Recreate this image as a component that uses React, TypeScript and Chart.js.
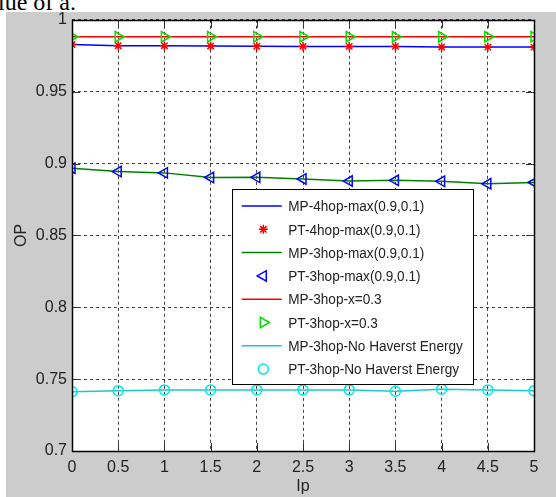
import React, { useEffect, useRef } from "react";
import { Chart, registerables } from "chart.js";

Chart.register(...registerables);

const xValues = [0, 0.5, 1, 1.5, 2, 2.5, 3, 3.5, 4, 4.5, 5];
const mp4hop = [0.9828, 0.982, 0.982, 0.9818, 0.9816, 0.9815, 0.9815, 0.9815, 0.9811, 0.981, 0.981];
const pt4hop = [0.9828, 0.982, 0.982, 0.9818, 0.9816, 0.9815, 0.9815, 0.9815, 0.9811, 0.981, 0.981];
const mp3hop = [0.8968, 0.8944, 0.8935, 0.8903, 0.8904, 0.8893, 0.8878, 0.8883, 0.8876, 0.8859, 0.8868];
const pt3hop = [0.8968, 0.8944, 0.8935, 0.8903, 0.8904, 0.8893, 0.8878, 0.8883, 0.8876, 0.8859, 0.8868];
const mpX03 = [0.9882, 0.9882, 0.9882, 0.9882, 0.9882, 0.9882, 0.9882, 0.9882, 0.9882, 0.9882, 0.9882];
const ptX03 = [0.9882, 0.9882, 0.9882, 0.9882, 0.9882, 0.9882, 0.9882, 0.9882, 0.9882, 0.9882, 0.9882];
const mpNoEH = [0.7413, 0.742, 0.7425, 0.7425, 0.7425, 0.7425, 0.7425, 0.7416, 0.743, 0.7425, 0.742];
const ptNoEH = [0.7413, 0.742, 0.7425, 0.7425, 0.7425, 0.7425, 0.7425, 0.7416, 0.743, 0.7425, 0.742];

const seriesLabels = [
  "MP-4hop-max(0.9,0.1)",
  "PT-4hop-max(0.9,0.1)",
  "MP-3hop-max(0.9,0.1)",
  "PT-3hop-max(0.9,0.1)",
  "MP-3hop-x=0.3",
  "PT-3hop-x=0.3",
  "MP-3hop-No Haverst Energy",
  "PT-3hop-No Haverst Energy",
];
const xTitle = "Ip";
const yTitle = "OP";
const headerText = "lue of a.";

const FONT = '"Liberation Sans Narrow", "Arial Narrow", "Liberation Sans", Arial, sans-serif';

const toPts = (ys: number[]) => ys.map((y, i) => ({ x: xValues[i], y }));

type Kind = { type: "line" | "star" | "triL" | "triR" | "circle"; color: string };
const kinds: Kind[] = [
  { type: "line", color: "#0000ff" },
  { type: "star", color: "#ff0000" },
  { type: "line", color: "#008000" },
  { type: "triL", color: "#0000ff" },
  { type: "line", color: "#ff0000" },
  { type: "triR", color: "#00e000" },
  { type: "line", color: "#20c8c8" },
  { type: "circle", color: "#00e8e8" },
];

function drawMarker(ctx: CanvasRenderingContext2D, k: Kind, x: number, y: number) {
  ctx.save();
  ctx.strokeStyle = k.color;
  ctx.lineWidth = 1.5;
  ctx.beginPath();
  if (k.type === "star") {
    const r = 4.5;
    ctx.moveTo(x - r, y); ctx.lineTo(x + r, y);
    ctx.moveTo(x, y - r); ctx.lineTo(x, y + r);
    const d = r * 0.707;
    ctx.moveTo(x - d, y - d); ctx.lineTo(x + d, y + d);
    ctx.moveTo(x - d, y + d); ctx.lineTo(x + d, y - d);
  } else if (k.type === "triL" || k.type === "triR") {
    const r = 6;
    const dir = k.type === "triL" ? -1 : 1;
    ctx.moveTo(x + dir * r, y);
    ctx.lineTo(x - dir * r * 0.5, y - r * 0.866);
    ctx.lineTo(x - dir * r * 0.5, y + r * 0.866);
    ctx.closePath();
  } else if (k.type === "circle") {
    ctx.arc(x, y, 5, 0, Math.PI * 2);
  }
  ctx.stroke();
  ctx.restore();
}

const decorPlugin = {
  id: "decor",
  beforeDraw(chart: any) {
    const { ctx, chartArea: a } = chart;
    ctx.save();
    ctx.fillStyle = "#ffffff";
    ctx.fillRect(a.left, a.top, a.right - a.left, a.bottom - a.top);
    ctx.restore();
  },
  afterDraw(chart: any) {
    const { ctx, chartArea: a, scales } = chart;
    ctx.save();
    // inward ticks
    ctx.strokeStyle = "#333";
    ctx.lineWidth = 1;
    ctx.beginPath();
    scales.x.ticks.forEach((t: any) => {
      const px = Math.round(scales.x.getPixelForValue(t.value)) + 0.5;
      ctx.moveTo(px, a.bottom); ctx.lineTo(px, a.bottom - 8);
      ctx.moveTo(px, a.top); ctx.lineTo(px, a.top + 8);
    });
    scales.y.ticks.forEach((t: any) => {
      const py = Math.round(scales.y.getPixelForValue(t.value)) + 0.5;
      ctx.moveTo(a.left, py); ctx.lineTo(a.left + 8, py);
      ctx.moveTo(a.right, py); ctx.lineTo(a.right - 8, py);
    });
    ctx.stroke();
    // box
    ctx.strokeStyle = "#000";
    ctx.lineWidth = 1.5;
    ctx.strokeRect(Math.round(a.left) + 0.5, Math.round(a.top) + 0.5, Math.round(a.right - a.left), Math.round(a.bottom - a.top));
    // axis titles
    ctx.fillStyle = "#222";
    ctx.font = `16px ${FONT}`;
    ctx.textAlign = "center";
    ctx.textBaseline = "middle";
    ctx.fillText(xTitle, (a.left + a.right) / 2, 475);
    ctx.save();
    ctx.translate(16, (a.top + a.bottom) / 2);
    ctx.rotate(-Math.PI / 2);
    ctx.fillText(yTitle, 0, 0);
    ctx.restore();
    // legend
    const lx = 226.5, ly = 177.5, lw = 241, lh = 195;
    ctx.fillStyle = "#ffffff";
    ctx.fillRect(lx, ly, lw, lh);
    ctx.strokeStyle = "#000";
    ctx.lineWidth = 1;
    ctx.strokeRect(lx, ly, lw, lh);
    ctx.textAlign = "left";
    ctx.textBaseline = "middle";
    ctx.font = `13.6px ${FONT}`;
    seriesLabels.forEach((lab, i) => {
      const cy = 194 + i * 23.3;
      const k = kinds[i];
      if (k.type === "line") {
        ctx.strokeStyle = k.color;
        ctx.lineWidth = 1.5;
        ctx.beginPath();
        ctx.moveTo(235.7, cy);
        ctx.lineTo(275.7, cy);
        ctx.stroke();
      } else {
        drawMarker(ctx, k, 257.3, cy);
      }
      ctx.fillStyle = "#222";
      ctx.save();
      ctx.translate(282.3, cy + 1);
      ctx.scale(1, 1.12);
      ctx.fillText(lab, 0, 0);
      ctx.restore();
    });
    ctx.restore();
  },
};

const allSeries = [mp4hop, pt4hop, mp3hop, pt3hop, mpX03, ptX03, mpNoEH, ptNoEH];

export default function App() {
  const ref = useRef<HTMLCanvasElement>(null);
  useEffect(() => {
    document.body.style.margin = "0";
    const canvas = ref.current!;
    const datasets = allSeries.map((ys, i) => {
      const k = kinds[i];
      const base: any = {
        label: seriesLabels[i],
        data: toPts(ys),
        borderColor: k.color,
        backgroundColor: "rgba(0,0,0,0)",
        borderWidth: 1.5,
      };
      if (k.type === "line") {
        return { ...base, showLine: true, pointRadius: 0, tension: 0, order: 2 };
      }
      const ps: any = {
        star: { pointStyle: "star", pointRadius: 4.5, rotation: 0 },
        triL: { pointStyle: "triangle", pointRadius: 6, rotation: -90 },
        triR: { pointStyle: "triangle", pointRadius: 6, rotation: 90 },
        circle: { pointStyle: "circle", pointRadius: 5, rotation: 0 },
      }[k.type];
      return {
        ...base,
        showLine: false,
        pointStyle: ps.pointStyle,
        pointRadius: ps.pointRadius,
        rotation: ps.rotation,
        pointBorderWidth: 1.5,
        pointBorderColor: k.color,
        pointBackgroundColor: "rgba(0,0,0,0)",
        order: 1,
      };
    });
    const chart = new Chart(canvas, {
      type: "scatter",
      data: { datasets },
      options: {
        responsive: false,
        animation: false,
        devicePixelRatio: 1,
        layout: { padding: { top: 2, right: 22, left: 0, bottom: 0 } },
        plugins: { legend: { display: false }, tooltip: { enabled: false } },
        scales: {
          x: {
            type: "linear",
            min: 0,
            max: 5,
            afterFit: (s: any) => { s.height = 46; },
            ticks: {
              stepSize: 0.5,
              padding: 7,
              color: "#222",
              font: { family: FONT, size: 16 },
              callback: (v: any) => String(+Number(v).toFixed(2)),
              maxRotation: 0,
              autoSkip: false,
            },
            grid: { color: "rgba(0,0,0,0.75)", drawTicks: false, lineWidth: 1 },
            border: { display: false, dash: [3, 3] },
          },
          y: {
            type: "linear",
            min: 0.7,
            max: 1,
            afterFit: (s: any) => { s.width = 66; },
            ticks: {
              stepSize: 0.05,
              padding: 5,
              color: "#222",
              font: { family: FONT, size: 16, lineHeight: 0.35 },
              callback: (v: any) => String(+Number(v).toFixed(2)),
              autoSkip: false,
            },
            grid: { color: "rgba(0,0,0,0.75)", drawTicks: false, lineWidth: 1 },
            border: { display: false, dash: [3, 3] },
          },
        },
      } as any,
      plugins: [decorPlugin],
    });
    return () => chart.destroy();
  }, []);
  return (
    <div style={{ position: "relative", width: 556, height: 497, background: "#fff", overflow: "hidden" }}>
      <div
        style={{
          position: "absolute",
          left: -2,
          top: -10,
          fontFamily: '"Liberation Serif", "Times New Roman", serif',
          fontSize: 24,
          lineHeight: "24px",
          color: "#000",
          whiteSpace: "nowrap",
        }}
      >
        {headerText}
      </div>
      <canvas
        ref={ref}
        width={550}
        height={485}
        style={{ position: "absolute", left: 6, top: 12, width: 550, height: 485, background: "#cccccc" }}
      />
    </div>
  );
}
